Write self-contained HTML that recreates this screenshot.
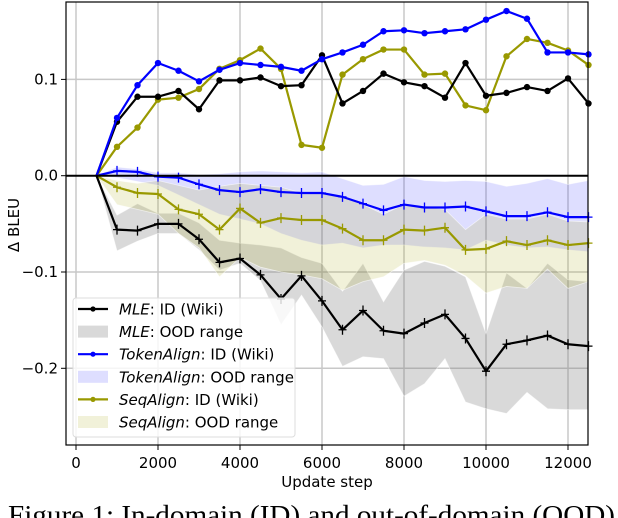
<!DOCTYPE html>
<html><head><meta charset="utf-8"><style>
html,body{margin:0;padding:0;background:#fff;width:618px;height:518px;overflow:hidden}
svg{display:block}
text{font-family:"DejaVu Sans","Liberation Sans",sans-serif}
</style></head><body>
<svg id="chart" width="618" height="518" viewBox="0 0 618 518" xmlns="http://www.w3.org/2000/svg">
<g id="grid"></g>
<g id="bands"></g>
<g id="lines"></g>
<g id="axes"></g>
<text x="0" y="0" transform="translate(19,225) rotate(-90)" font-size="15" text-anchor="middle">Δ BLEU</text>
<text x="327" y="487" font-size="15" text-anchor="middle">Update step</text>
<text x="8" y="524" font-size="27" textLength="607" lengthAdjust="spacingAndGlyphs" style="font-family:'Liberation Serif',serif">Figure 1:  In-domain (ID) and out-of-domain (OOD)</text>
<g id="legend"></g>
</svg>
<script>
const steps = [500,1000,1500,2000,2500,3000,3500,4000,4500,5000,5500,6000,6500,7000,7500,8000,8500,9000,9500,10000,10500,11000,11500,12000,12500];
const mleId = [0,0.056,0.082,0.082,0.088,0.069,0.099,0.099,0.102,0.093,0.094,0.125,0.075,0.088,0.106,0.097,0.093,0.081,0.117,0.083,0.086,0.092,0.088,0.101,0.075];
const tokId = [0,0.060,0.094,0.117,0.109,0.098,0.110,0.117,0.115,0.113,0.109,0.121,0.128,0.136,0.150,0.151,0.148,0.150,0.152,0.162,0.171,0.163,0.128,0.128,0.126];
const seqId = [0,0.030,0.050,0.079,0.081,0.090,0.111,0.120,0.132,0.111,0.032,0.029,0.105,0.121,0.131,0.131,0.105,0.106,0.073,0.068,0.124,0.142,0.138,0.130,0.115];
const mleOod = [0,-0.056,-0.057,-0.050,-0.050,-0.066,-0.090,-0.086,-0.103,-0.128,-0.104,-0.130,-0.160,-0.140,-0.161,-0.164,-0.153,-0.144,-0.169,-0.203,-0.175,-0.171,-0.166,-0.175,-0.177];
const tokOod = [0,0.005,0.004,-0.001,-0.002,-0.009,-0.015,-0.017,-0.014,-0.017,-0.018,-0.018,-0.022,-0.029,-0.036,-0.030,-0.033,-0.033,-0.032,-0.037,-0.042,-0.042,-0.038,-0.043,-0.043];
const seqOod = [0,-0.012,-0.018,-0.019,-0.035,-0.040,-0.056,-0.034,-0.049,-0.044,-0.046,-0.046,-0.055,-0.067,-0.067,-0.056,-0.057,-0.054,-0.077,-0.076,-0.068,-0.072,-0.067,-0.072,-0.070];
const mleLo = [0,-0.078,-0.068,-0.060,-0.060,-0.077,-0.098,-0.091,-0.109,-0.155,-0.124,-0.157,-0.198,-0.188,-0.190,-0.229,-0.216,-0.190,-0.235,-0.242,-0.247,-0.225,-0.242,-0.243,-0.243];
const mleHi = [0,-0.041,-0.029,-0.039,-0.039,-0.049,-0.067,-0.070,-0.072,-0.075,-0.085,-0.091,-0.120,-0.091,-0.131,-0.098,-0.089,-0.094,-0.105,-0.164,-0.101,-0.117,-0.091,-0.108,-0.110];
const tokLo = [0,-0.002,-0.006,-0.010,-0.020,-0.030,-0.040,-0.045,-0.050,-0.060,-0.067,-0.072,-0.070,-0.075,-0.072,-0.072,-0.074,-0.075,-0.077,-0.067,-0.072,-0.075,-0.074,-0.077,-0.079];
const tokHi = [0,0.009,0.007,0.003,0.003,0.001,0.002,0.004,0.005,0.004,0.003,0.004,-0.003,-0.010,-0.009,-0.001,-0.005,-0.006,-0.005,-0.006,-0.011,-0.008,-0.003,-0.009,-0.005];
const seqLo = [0,-0.030,-0.035,-0.040,-0.060,-0.075,-0.105,-0.085,-0.095,-0.100,-0.103,-0.107,-0.119,-0.110,-0.105,-0.091,-0.088,-0.093,-0.104,-0.122,-0.115,-0.117,-0.097,-0.117,-0.110];
const seqHi = [0,-0.005,-0.008,-0.005,-0.010,-0.015,-0.011,-0.008,-0.010,-0.012,-0.018,-0.018,-0.022,-0.030,-0.040,-0.030,-0.032,-0.035,-0.056,-0.040,-0.045,-0.045,-0.040,-0.047,-0.048];
const xTicks = [0,2000,4000,6000,8000,10000,12000];
const yTicks = [0.1,0,-0.1,-0.2];
const yTickLabels = ["0.1","0.0","\u22120.1","\u22120.2"];

const NS="http://www.w3.org/2000/svg";
const L=66,R=588,T=2,B=445;
function xs(v){return 76+v*0.041;}
function ys(v){return 175.7-v*963;}
function mk(tag,attrs,parent){const e=document.createElementNS(NS,tag);for(const k in attrs)e.setAttribute(k,attrs[k]);parent.appendChild(e);return e;}
const grid=document.getElementById('grid'),axes=document.getElementById('axes'),bands=document.getElementById('bands'),lines=document.getElementById('lines'),legend=document.getElementById('legend');
xTicks.forEach((t,i)=>{
  const g=mk('line',{x1:xs(t),x2:xs(t),y1:T,y2:B,stroke:'#c8c8c8','stroke-width':1.5},grid);
  
  
  const tk=mk('line',{x1:xs(t),x2:xs(t),y1:B,y2:B+5,stroke:'#000','stroke-width':1},axes);
  
  
  const tx=mk('text',{x:xs(t),y:468,'font-size':15,'text-anchor':'middle'},axes);tx.textContent=t;
  
  
});
yTicks.forEach((t,i)=>{
  const g=mk('line',{x1:L,x2:R,y1:ys(t),y2:ys(t),stroke:'#c8c8c8','stroke-width':1.5},grid);
  
  
  const tk=mk('line',{x1:L-5,x2:L,y1:ys(t),y2:ys(t),stroke:'#000','stroke-width':1},axes);
  
  
  const tx=mk('text',{x:L-8,y:ys(t)+5,'font-size':15,'text-anchor':'end'},axes);tx.textContent=yTickLabels[i];
  
  
});
const zl=mk('line',{x1:L,x2:R,y1:ys(0),y2:ys(0),stroke:'#000','stroke-width':2},axes);


const fr=mk('rect',{x:L,y:T,width:R-L,height:B-T,fill:'none',stroke:'#000','stroke-width':1.2},axes);



function band(lo,hi,fill,name){
  let d='M'+steps.map((s,i)=>xs(s)+','+ys(hi[i])).join('L');
  d+='L'+steps.slice().reverse().map((s,j)=>{const i=steps.length-1-j;return xs(s)+','+ys(lo[i]);}).join('L')+'Z';
  const p=mk('path',{d:d,fill:fill,stroke:'rgba(255,255,255,0.6)','stroke-width':0.8},bands);
  
  
}
band(mleLo,mleHi,'rgba(128,128,128,0.3)','mle-ood-band');
band(tokLo,tokHi,'rgba(60,60,255,0.17)','tokenalign-ood-band');
band(seqLo,seqHi,'rgba(160,160,0,0.15)','seqalign-ood-band');

function series(vals,color,marker,name){
  const p=mk('polyline',{points:steps.map((s,i)=>xs(s)+','+ys(vals[i])).join(' '),fill:'none',stroke:color,'stroke-width':2.2,'stroke-linejoin':'round'},lines);
  
  
  steps.forEach((s,i)=>{
    if(i===0)return;
    let m;
    if(marker==='dot'){m=mk('circle',{cx:xs(s),cy:ys(vals[i]),r:3.2,fill:color},lines);}
    else{m=mk('path',{d:`M${xs(s)},${ys(vals[i])-5}v10M${xs(s)-4},${ys(vals[i])}h8`,stroke:color,'stroke-width':1.3},lines);}
    
    
  });
}
series(seqOod,'#999900','plus','seqalign-ood');
series(tokOod,'#0000ff','plus','tokenalign-ood');
series(mleOod,'#000000','plus','mle-ood');
series(seqId,'#999900','dot','seqalign-id');
series(mleId,'#000000','dot','mle-id');
series(tokId,'#0000ff','dot','tokenalign-id');

const lb=mk('rect',{x:73,y:298,width:222,height:139,rx:3,fill:'rgba(255,255,255,0.82)',stroke:'#ddd','stroke-width':1},legend);


const entries=[['MLE',': ID (Wiki)','line','#000'],['MLE',': OOD range','band','rgba(128,128,128,0.3)'],['TokenAlign',': ID (Wiki)','line','#0000ff'],['TokenAlign',': OOD range','band','rgba(60,60,255,0.17)'],['SeqAlign',': ID (Wiki)','line','#999900'],['SeqAlign',': OOD range','band','rgba(160,160,0,0.15)']];
entries.forEach((e,i)=>{
  const y=309+i*22.6;
  const g=mk('g',{},legend);
  
  
  if(e[2]==='line'){mk('line',{x1:78,x2:108,y1:y,y2:y,stroke:e[3],'stroke-width':2.2},g);mk('circle',{cx:93,cy:y,r:2.6,fill:e[3]},g);}
  else{mk('rect',{x:78,y:y-6,width:30,height:12,fill:e[3]},g);}
  const t=mk('text',{x:119,y:y+5.5,'font-size':15},g);
  const it=mk('tspan',{'font-style':'italic'},t);it.textContent=e[0];
  const rt=mk('tspan',{},t);rt.textContent=e[1];
});
</script>
</body></html>
